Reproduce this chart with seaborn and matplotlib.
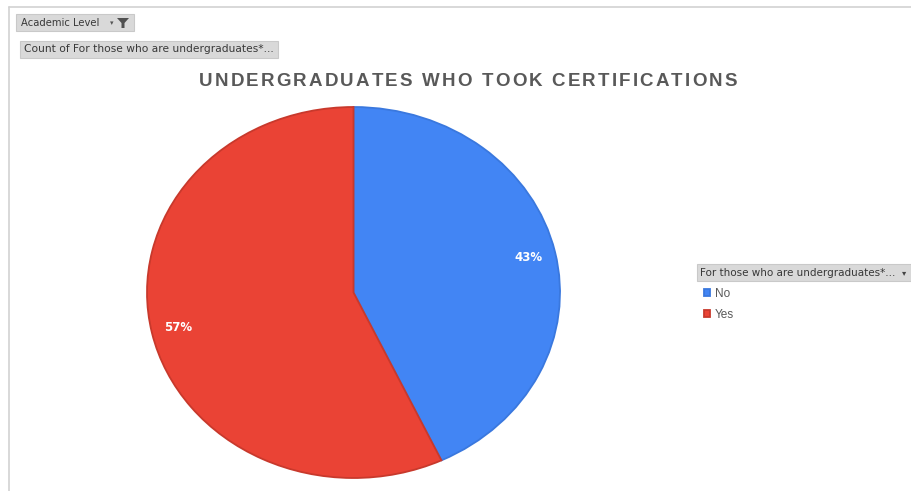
import matplotlib
matplotlib.use("Agg")
import matplotlib.pyplot as plt
import seaborn as sns
from matplotlib.patches import Rectangle, Polygon
from matplotlib.lines import Line2D

# Survey answers and their counts
answers = ["No", "Yes"]
counts = [43, 57]
slice_colors = ["#4285F4", "#EA4335"]
edge_colors = ["#3A78DE", "#C8392C"]

chart_title = "UNDERGRADUATES WHO TOOK CERTIFICATIONS"
legend_header = "For those who are undergraduates*..."
filter_field = "Academic Level"
value_field = "Count of For those who are undergraduates*..."

sns.set_theme(style="white")
plt.rcParams["font.family"] = ["Liberation Sans", "DejaVu Sans"]

W, H = 912, 491
fig = plt.figure(figsize=(W / 100, H / 100), dpi=100)
fig.patch.set_facecolor("white")


def fx(px):
    return px / W


def fy(py):
    return 1 - py / H


# Pie (elliptical, stretched to the plot area like the pivot chart)
ax = fig.add_axes([fx(147), fy(478), 413 / W, 371 / H])
wedges, texts, autotexts = ax.pie(
    counts,
    colors=slice_colors,
    startangle=90,
    counterclock=False,
    autopct=lambda p: f"{p:.0f}%",
    pctdistance=0.87,
    wedgeprops=dict(linewidth=1.3),
    textprops=dict(color="white", fontsize=8.5, fontweight="bold",
                   family="DejaVu Sans"),
)
for w, ec in zip(wedges, edge_colors):
    w.set_edgecolor(ec)
ax.set_aspect("auto")
ax.set_xlim(-1, 1)
ax.set_ylim(-1, 1)
ax.axis("off")

# Chart frame lines
fig.add_artist(Line2D([fx(9), 1], [fy(6.5), fy(6.5)], transform=fig.transFigure,
                      color="#D2D2D2", lw=1.2))
fig.add_artist(Line2D([fx(9.5), fx(9.5)], [fy(6.5), 0], transform=fig.transFigure,
                      color="#D2D2D2", lw=1.2))

# Letter-spaced title
title_kw = dict(fontsize=13.5, fontweight="bold", color="#595959")
fig.canvas.draw()
renderer = fig.canvas.get_renderer()


def text_width(s):
    t = fig.text(0, 0, s, **title_kw)
    w = t.get_window_extent(renderer).width
    t.remove()
    return w


base = text_width("||")
advances = [text_width("|" + c + "|") - base for c in chart_title]
target_w = 538
gap = (target_w - sum(advances)) / (len(chart_title) - 1)
x = 199
for c, a in zip(chart_title, advances):
    fig.text(fx(x), fy(86.5), c, ha="left", va="baseline", **title_kw)
    x += a + gap

# Pivot field buttons
btn_kw = dict(transform=fig.transFigure, facecolor="#D9D9D9", edgecolor="#C9C9C9", lw=0.8)
small_kw = dict(color="#383838", va="center", family="DejaVu Sans")
fig.add_artist(Rectangle((fx(16), fy(31)), 118 / W, 17 / H, **btn_kw))
fig.text(fx(21), fy(22.5), filter_field, fontsize=7.2, **small_kw)
fig.text(fx(110), fy(23.5), "\u25be", fontsize=5, color="#555555", va="center",
         family="DejaVu Sans")
fig.add_artist(Polygon([[fx(117), fy(18)], [fx(129), fy(18)], [fx(124.5), fy(23)],
                        [fx(124.5), fy(28)], [fx(121.5), fy(28)], [fx(121.5), fy(23)]],
                       closed=True, transform=fig.transFigure, facecolor="#505050",
                       edgecolor="none"))

fig.add_artist(Rectangle((fx(20), fy(57.5)), 258 / W, 16.5 / H, **btn_kw))
fig.text(fx(24), fy(49), value_field, fontsize=7.7, **small_kw)

# Legend header button
fig.add_artist(Rectangle((fx(697), fy(281)), 214 / W, 17 / H, **btn_kw))
fig.text(fx(700), fy(272.5), legend_header, fontsize=7.5, **small_kw)
fig.text(fx(902), fy(272.5), "\u25be", fontsize=6, color="#444444", va="center",
         family="DejaVu Sans")

leg = ax.legend(
    wedges, answers,
    loc="upper left",
    bbox_to_anchor=(fx(704), fy(288)),
    bbox_transform=fig.transFigure,
    frameon=False,
    fontsize=8.5,
    handlelength=0.5,
    handleheight=0.5,
    handletextpad=0.4,
    labelspacing=0.75,
    borderpad=0,
    borderaxespad=0,
)
for t in leg.get_texts():
    t.set_color("#595959")

fig.savefig("out.png", dpi=100, facecolor="white")
